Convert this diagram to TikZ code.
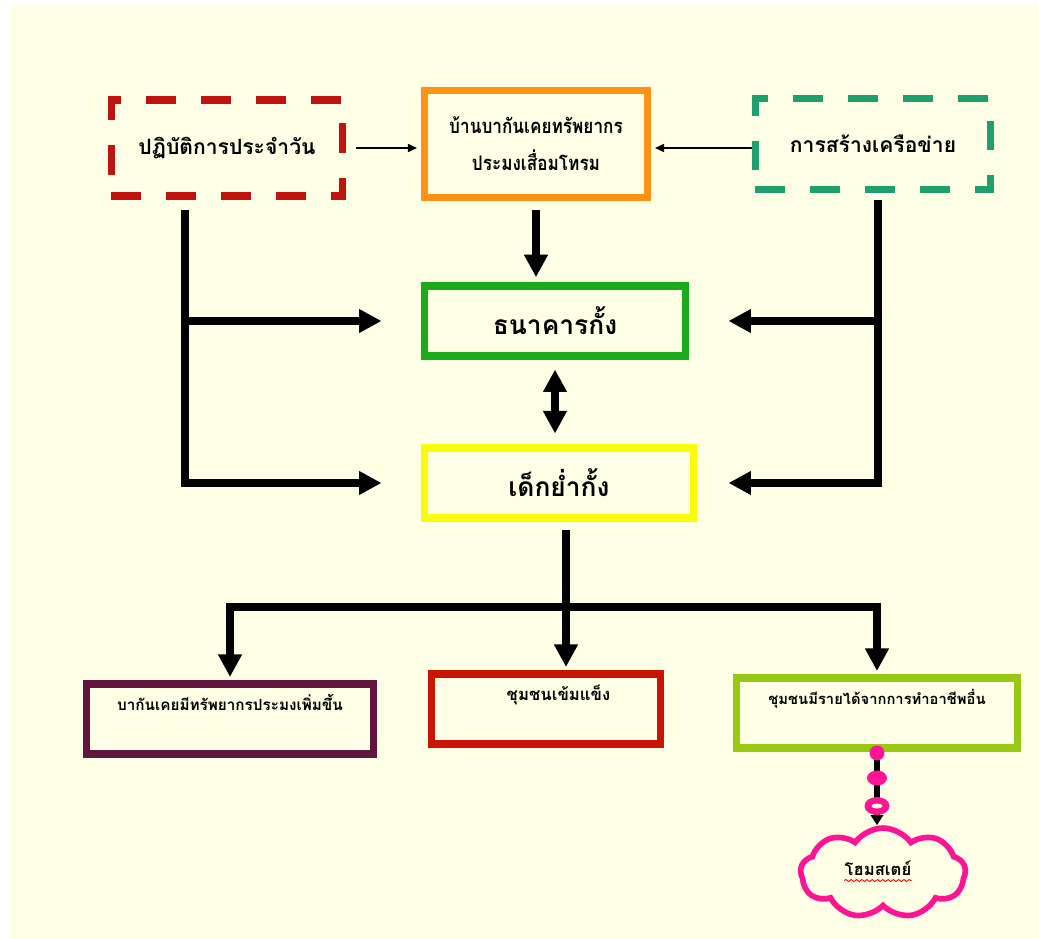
\documentclass[tikz,border=0pt]{standalone}
\usepackage{fontspec}
\newfontfamily\thaifont[Script=Thai]{Loma}
\newfontfamily\thainarrow[Script=Thai,FakeStretch=0.85]{Loma}
\usepackage{tikz}
\usetikzlibrary{arrows.meta}
\usetikzlibrary{shapes.symbols}
\usetikzlibrary{decorations.pathmorphing}

\definecolor{paper}{RGB}{255,255,229}
\definecolor{dailyred}{RGB}{192,20,16}
\definecolor{newsorange}{RGB}{255,145,20}
\definecolor{netgreen}{RGB}{30,160,110}
\definecolor{bankgreen}{RGB}{26,170,26}
\definecolor{kidyellow}{RGB}{250,250,10}
\definecolor{fishpurple}{RGB}{100,20,60}
\definecolor{carered}{RGB}{200,20,0}
\definecolor{joblime}{RGB}{150,200,20}
\definecolor{homepink}{RGB}{255,20,150}

\begin{document}
\begin{tikzpicture}[x=0.02cm,y=-0.02cm,
	every node/.style={font=\thaifont\bfseries,text=black},
	box/.style={draw,line width=4pt,minimum height=1.4cm},
	dbox/.style={draw,line width=4pt,dash pattern=on 0.6cm off 0.5cm},
	lowtext/.style={text height=0.3cm,text depth=0.65cm},
	flow/.style={line width=4pt,-{Triangle[length=0.45cm,width=0.45cm]}},
	link/.style={line width=4pt},
	feed/.style={line width=0.9pt,-{Triangle[length=0.18cm,width=0.16cm]}}]
	\useasboundingbox (0,0) rectangle (1039,939);
	\fill[paper] (10,5) rectangle (1039,939);

	% top row
	\node[dbox,draw=dailyred,minimum width=4.64cm,minimum height=1.92cm,font=\thaifont\bfseries\fontsize{12}{16}\selectfont] (daily) at (227,148) {ปฏิบัติการประจำวัน};
	\node[box,draw=newsorange,minimum width=4.48cm,minimum height=2.14cm,align=center,font=\thainarrow\bfseries\fontsize{11.5}{21}\selectfont] (news) at (536,144) {บ้านบากันเคยทรัพยากร\\ประมงเสื่อมโทรม};
	\node[dbox,draw=netgreen,minimum width=4.72cm,minimum height=1.82cm,font=\thaifont\bfseries\fontsize{12}{16}\selectfont] (net) at (873,144) {การสร้างเครือข่าย};

	% middle
	\node[box,draw=bankgreen,minimum width=5.24cm,font=\thaifont\bfseries\fontsize{15}{18}\selectfont] (bank) at (555,321) {ธนาคารกั้ง};
	\node[box,draw=kidyellow,minimum width=5.4cm,font=\thaifont\bfseries\fontsize{15}{18}\selectfont] (kid) at (559,483) {เด็กย่ำกั้ง};

	% bottom row
	\node[box,lowtext,draw=fishpurple,minimum width=5.76cm,font=\thaifont\bfseries\fontsize{8.7}{12}\selectfont] (fish) at (230,719) {บากันเคยมีทรัพยากรประมงเพิ่มขึ้น};
	\node[box,lowtext,draw=carered,minimum width=4.6cm,font=\thaifont\bfseries\fontsize{9.5}{12}\selectfont] (care) at (546,709) {\hspace*{0.5cm}ชุมชนเข้มแข็ง};
	\node[box,lowtext,draw=joblime,minimum width=5.64cm,font=\thaifont\bfseries\fontsize{8.4}{12}\selectfont] (job) at (877,713) {ชุมชนมีรายได้จากการทำอาชีพอื่น};

	% cloud
	\node[cloud,cloud puffs=9,cloud puff arc=110,aspect=1.9,draw=homepink,line width=3.2pt,minimum width=3.3cm,minimum height=1.8cm] (home) at (883,873) {};
	\node[inner sep=0pt,font=\thaifont\bfseries\fontsize{9.5}{12}\selectfont] (hs) at (878,868) {โฮมสเตย์};
	\draw[red,line width=0.5pt,decorate,decoration={snake,amplitude=0.6pt,segment length=3pt}] ([yshift=-3pt]hs.base west) -- ([yshift=-3pt]hs.base east);

	% thin arrows
	\draw[feed,shorten <=0.2cm,shorten >=2pt] (daily.east) -- (daily.east -| news.west);
	\draw[feed,shorten >=2pt] (net.west |- daily.east) -- (daily.east -| news.east);

	% thick arrows
	\draw[flow,shorten <=0.18cm,shorten >=3pt] (news.south) -- (news.south |- bank.north);
	\draw[line width=4pt,{Triangle[length=0.45cm,width=0.45cm]}-{Triangle[length=0.45cm,width=0.45cm]},shorten <=0.2cm,shorten >=0.22cm] (bank.south) -- (bank.south |- kid.north);

	\coordinate (lt) at (185,210);
	\draw[flow] (lt) |- ([xshift=-0.78cm]kid.west);
	\draw[flow] (lt |- bank.west) -- ([xshift=-0.78cm]bank.west);

	\coordinate (rt) at (878,200);
	\draw[flow] (rt) |- ([xshift=0.62cm]kid.east);
	\draw[flow] (rt |- bank.east) -- ([xshift=0.78cm]bank.east);

	\coordinate (bs) at (566,530);
	\coordinate (bj) at (566,607);
	\draw[link] (bs) -- (bj);
	\draw[flow,shorten >=2pt] (bj) -- (bj |- care.north);
	\draw[flow,shorten >=2pt] (bj) -| (fish.north);
	\draw[flow,shorten >=2pt] (bj) -| (job.north);

	% beads down to the cloud
	\draw[line width=3.5pt,-{Triangle[length=0.2cm,width=0.24cm]}] (job.south) -- (job.south |- home.north);
	\fill[homepink] (877,753) circle[radius=0.15cm];
	\fill[homepink] (877,778) ellipse[x radius=0.2cm,y radius=0.15cm];
	\fill[homepink] (877,806) ellipse[x radius=0.25cm,y radius=0.18cm];
	\fill[paper] (877,806) ellipse[x radius=0.11cm,y radius=0.05cm];
\end{tikzpicture}
\end{document}
